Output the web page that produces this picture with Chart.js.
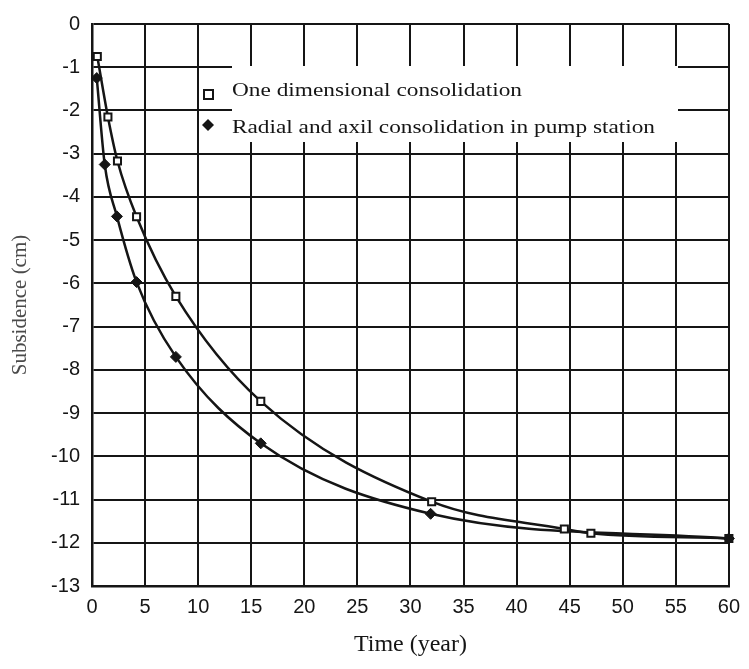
<!DOCTYPE html>
<html>
<head>
<meta charset="utf-8">
<script src="https://cdn.jsdelivr.net/npm/chart.js@4/dist/chart.umd.min.js"></script>
<style>
  html, body { margin:0; padding:0; background:#fff; }
  #wrap { width:749px; height:669px; position:relative; }
</style>
</head>
<body>
<div id="wrap"><canvas id="subsChart" width="749" height="669"></canvas></div>
<script>
// ============ DATA ============
// values
const oneDimTime = [0.5, 1.5, 2.4, 4.2, 7.9, 15.9, 32.0, 44.5, 47.0, 60.0];
const oneDimSubs = [-0.75, -2.15, -3.17, -4.46, -6.3, -8.73, -11.05, -11.68, -11.78, -11.9];

const radialTime = [0.45, 1.2, 2.35, 4.2, 7.9, 15.9, 31.9, 60.0];
const radialSubs = [-1.25, -3.25, -4.45, -5.97, -7.7, -9.7, -11.33, -11.9];

const xTicks = [0, 5, 10, 15, 20, 25, 30, 35, 40, 45, 50, 55, 60];
const yTicks = [0, -1, -2, -3, -4, -5, -6, -7, -8, -9, -10, -11, -12, -13];

const seriesNames = ['One dimensional consolidation', 'Radial and axil consolidation in pump station'];

const INK = '#151515';
const TICK_FONT = { family: '"Liberation Sans", Arial, sans-serif', size: 20 };

const toXY = (xs, ys) => xs.map((x, i) => ({ x, y: ys[i] }));

// legend drawn inside the plot over a white patch (like the pasted-in label on the scan)
const inlineLegend = {
  id: 'inlineLegend',
  beforeDatasetsDraw(chart) {
    const c = chart.ctx;
    c.save();
    c.fillStyle = '#fff';
    c.fillRect(232, 66, 446, 76);
    c.restore();
  },
  afterDatasetsDraw(chart) {
    const c = chart.ctx;
    c.save();
    // markers
    c.strokeStyle = INK; c.lineWidth = 2; c.fillStyle = '#fff';
    c.fillRect(204, 90, 9, 9); c.strokeRect(204, 90, 9, 9);
    c.fillStyle = INK;
    c.beginPath();
    c.moveTo(208, 119); c.lineTo(214, 125); c.lineTo(208, 131); c.lineTo(202, 125);
    c.closePath(); c.fill();
    // texts, stretched a bit to match the scan width
    c.font = '19px "Liberation Serif", "Times New Roman", serif';
    c.textBaseline = 'alphabetic';
    const lines = [[seriesNames[0], 232, 96, 290], [seriesNames[1], 232, 133, 423]];
    lines.forEach(([txt, x, y, w]) => {
      const m = c.measureText(txt).width;
      c.save();
      c.translate(x, y);
      c.scale(w / m, 1);
      c.fillText(txt, 0, 0);
      c.restore();
    });
    c.restore();
  }
};

new Chart(document.getElementById('subsChart'), {
  type: 'scatter',
  data: {
    datasets: [
      {
        label: seriesNames[0],
        data: toXY(oneDimTime, oneDimSubs),
        showLine: true,
        borderColor: INK,
        borderWidth: 2.5,
        cubicInterpolationMode: 'monotone',
        pointStyle: 'rect',
        pointRadius: 5,
        pointBorderWidth: 2,
        pointBorderColor: INK,
        pointBackgroundColor: ctx => ctx.dataIndex === oneDimTime.length - 1 ? INK : '#fff',
        clip: false
      },
      {
        label: seriesNames[1],
        data: toXY(radialTime, radialSubs),
        showLine: true,
        borderColor: INK,
        borderWidth: 2.5,
        cubicInterpolationMode: 'monotone',
        pointStyle: 'rectRot',
        pointRadius: 5.5,
        pointBorderWidth: 1,
        pointBorderColor: INK,
        pointBackgroundColor: INK,
        clip: false
      }
    ]
  },
  options: {
    responsive: false,
    animation: false,
    layout: { padding: { top: 15, right: 16, left: 0, bottom: 0 } },
    plugins: { legend: { display: false }, tooltip: { enabled: false } },
    scales: {
      x: {
        type: 'linear', min: 0, max: 60,
        afterFit: s => { s.height = 83; },
        afterBuildTicks: s => { s.ticks = xTicks.map(v => ({ value: v })); },
        grid: { color: INK, lineWidth: 2, drawTicks: false },
        border: { color: INK, width: 2.5 },
        ticks: { color: INK, padding: 9, font: TICK_FONT },
        title: { display: true, text: 'Time (year)', color: INK, padding: { top: 0, bottom: 10 },
                 font: { family: '"Liberation Serif", "Times New Roman", serif', size: 24 } }
      },
      y: {
        type: 'linear', min: -13, max: 0,
        afterFit: s => { s.width = 92; },
        afterBuildTicks: s => { s.ticks = yTicks.map(v => ({ value: v })); },
        grid: { color: INK, lineWidth: 2, drawTicks: false },
        border: { color: INK, width: 2.5 },
        ticks: { color: INK, padding: 12, font: TICK_FONT },
        title: { display: true, text: 'Subsidence (cm)', color: '#4a4a4a', padding: { top: 8, bottom: 0 },
                 font: { family: '"Liberation Serif", "Times New Roman", serif', size: 21 } }
      }
    }
  },
  plugins: [inlineLegend]
});
</script>
</body>
</html>
